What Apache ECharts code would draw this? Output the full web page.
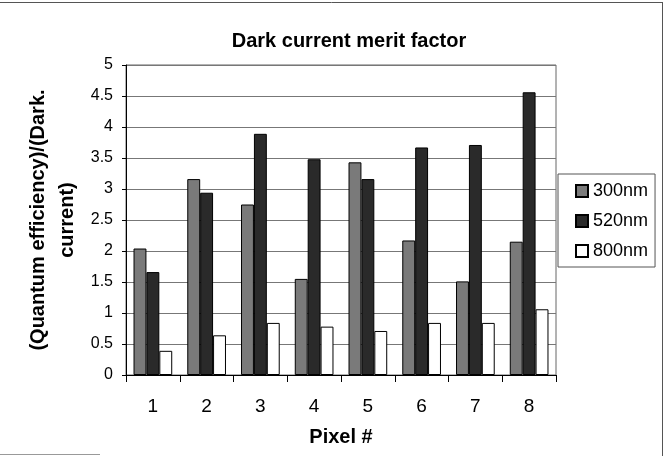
<!DOCTYPE html>
<html>
<head>
<meta charset="utf-8">
<script src="https://cdn.jsdelivr.net/npm/echarts@6/dist/echarts.min.js"></script>
<style>html,body{margin:0;padding:0;background:#fff;}#c{width:666px;height:456px;}</style>
</head>
<body>
<div id="c"></div>
<script>
const categories = ['1','2','3','4','5','6','7','8'];
const s300 = [2.04, 3.16, 2.75, 1.55, 3.43, 2.17, 1.51, 2.15];
const s520 = [1.66, 2.94, 3.89, 3.48, 3.16, 3.67, 3.71, 4.56];
const s800 = [0.39, 0.64, 0.84, 0.78, 0.71, 0.84, 0.84, 1.06];
const seriesNames = ['300nm', '520nm', '800nm'];
const yTicks = ['0','0.5','1','1.5','2','2.5','3','3.5','4','4.5','5'];

const FONT = '"Liberation Sans", Arial, sans-serif';
const chart = echarts.init(document.getElementById('c'), null, {renderer: 'canvas'});
const colors = ['#7a7a7a', '#2a2a2a', '#ffffff'];
const data = [s300, s520, s800];

chart.setOption({
  animation: false,
  backgroundColor: '#fff',
  title: {
    text: 'Dark current merit factor',
    left: 344, top: 26, textAlign: 'center',
    textStyle: {fontFamily: FONT, fontSize: 20, fontWeight: 'bold', color: '#000'}
  },
  grid: {left: 126, right: 110, top: 65, bottom: 81, show: true, borderColor: '#666', borderWidth: 1},
  legend: {
    orient: 'vertical', left: 558, top: 174,
    padding: [8, 7, 7, 17],
    itemWidth: 12, itemHeight: 12, itemGap: 12,
    borderColor: '#555', borderWidth: 1,
    icon: 'rect',
    textStyle: {fontFamily: FONT, fontSize: 18, color: '#000', lineHeight: 18},
    data: seriesNames
  },
  xAxis: {
    type: 'category', data: categories,
    name: 'Pixel #', nameLocation: 'middle', nameGap: 52,
    nameTextStyle: {fontFamily: FONT, fontSize: 20, fontWeight: 'bold', color: '#000'},
    axisLine: {lineStyle: {color: '#000', width: 1}},
    axisTick: {show: true, length: 7, lineStyle: {color: '#000'}},
    axisLabel: {fontFamily: FONT, fontSize: 19, color: '#000', margin: 22}
  },
  yAxis: {
    type: 'value', min: 0, max: 5, interval: 0.5,
    axisLine: {show: true, lineStyle: {color: '#000', width: 1}},
    axisTick: {show: true, length: 4, lineStyle: {color: '#000'}},
    axisLabel: {fontFamily: FONT, fontSize: 16, color: '#000', margin: 13,
      formatter: (v) => yTicks[Math.round(v * 2)]},
    splitLine: {show: true, lineStyle: {color: '#777', width: 1}}
  },
  series: seriesNames.map((n, i) => ({
    name: n, type: 'bar', data: data[i],
    barGap: '0%', barCategoryGap: '28%',
    itemStyle: {color: colors[i], borderColor: '#000', borderWidth: 1}
  })),
  graphic: [
    {type: 'text', x: 53, y: 220, rotation: Math.PI / 2,
      style: {text: '(Quantum efficiency)/(Dark.\ncurrent)', font: 'bold 20px ' + FONT,
        fill: '#000', textAlign: 'center', textVerticalAlign: 'middle', lineHeight: 29}},
    {type: 'line', shape: {x1: 0, y1: 2.5, x2: 663, y2: 2.5}, style: {stroke: '#555', lineWidth: 1}},
    {type: 'line', shape: {x1: 662.5, y1: 2, x2: 662.5, y2: 456}, style: {stroke: '#555', lineWidth: 1}},
    {type: 'line', shape: {x1: 0, y1: 454.5, x2: 100, y2: 454.5}, style: {stroke: '#999', lineWidth: 1}}
  ]
});
</script>
</body>
</html>
